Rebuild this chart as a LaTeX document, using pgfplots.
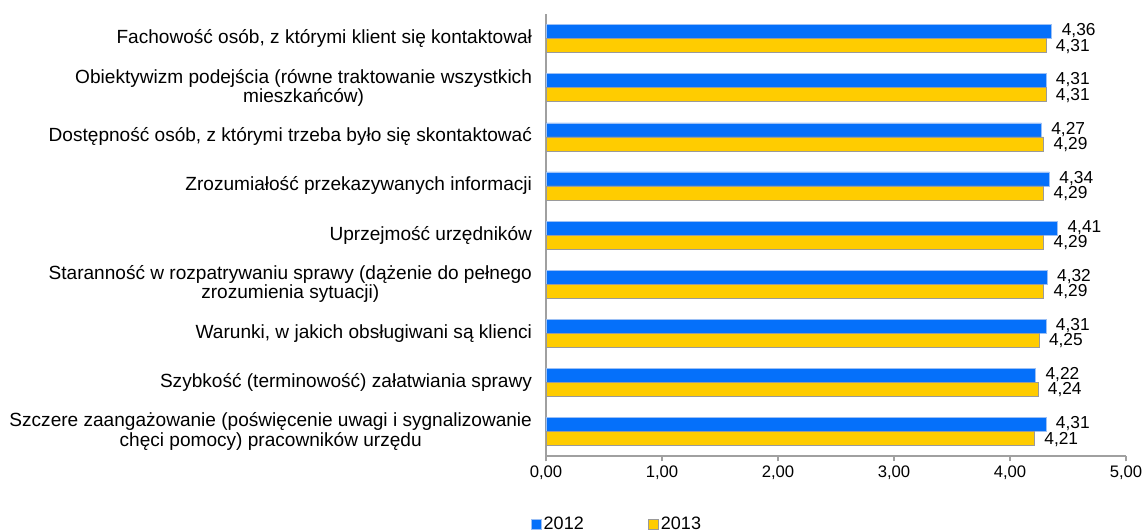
\documentclass[border=0pt]{standalone}
\usepackage{fontspec}
\setmainfont{Liberation Sans}
\usepackage{pgfplots}
\pgfplotsset{compat=1.18}
\definecolor{y2012}{HTML}{0570FA}
\definecolor{y2012e}{HTML}{9CC0F5}
\definecolor{y2013}{HTML}{FFCC00}
\definecolor{y2013e}{HTML}{9A9A9A}
\definecolor{axisgray}{HTML}{A0A0A0}

\begin{document}
\begin{tikzpicture}[font=\fontsize{12}{13}\selectfont]
\begin{axis}[
	name=main,
	at={(0,0)}, anchor=south west,
	scale only axis,
	width=435pt, height=331.5pt,
	xbar, bar width=10.5pt,
	xmin=0, xmax=5,
	ymin=-0.5, ymax=8.5,
	y dir=reverse,
	axis x line*=bottom,
	axis y line*=left,
	axis line style={axisgray, line width=0.8pt},
	xtick={0,1,2,3,4,5},
	ytick={0,...,8},
	minor ytick={-0.5,0.5,...,8.5},
	tick align=outside,
	major tick length=4pt,
	minor tick length=5pt,
	ytick style={draw=none},
	minor tick style={draw=axisgray, line width=0.8pt},
	xtick style={axisgray, line width=0.8pt},
	xticklabel style={font=\fontsize{12.5}{13}\selectfont,
		/pgf/number format/.cd, use comma, fixed, fixed zerofill, precision=2, /tikz/.cd, yshift=0pt},
	/pgf/number format/assume math mode=true,
	yticklabel style={align=center, xshift=-3pt, font=\fontsize{14.3}{12.8}\selectfont},
	yticklabels={
		{Fachowość osób, z którymi klient się kontaktował},
		{Obiektywizm podejścia (równe traktowanie wszystkich\\mieszkańców)},
		{Dostępność osób, z którymi trzeba było się skontaktować},
		{Zrozumiałość przekazywanych informacji},
		{Uprzejmość urzędników},
		{Staranność w rozpatrywaniu sprawy (dążenie do pełnego\\zrozumienia sytuacji)},
		{Warunki, w jakich obsługiwani są klienci},
		{Szybkość (terminowość) załatwiania sprawy},
		{Szczere zaangażowanie (poświęcenie uwagi i sygnalizowanie\\chęci pomocy) pracowników urzędu}
	},
	nodes near coords,
	nodes near coords style={anchor=west, xshift=4pt, inner ysep=0pt, font=\fontsize{13}{13}\selectfont,
		/pgf/number format/.cd, use comma, fixed, fixed zerofill, precision=2, assume math mode=true, /tikz/.cd},
	legend columns=2,
	legend style={at={(-0.034,-0.155)}, anchor=west, draw=none, fill=none,
		font=\fontsize{13.5}{14}\selectfont,
		/tikz/every even column/.append style={column sep=46pt}},
	legend image code/.code={\draw[#1] (0pt,-3.75pt) rectangle (7.5pt,3.75pt);},
	clip=false,
]
\addplot[fill=y2012, draw=y2012e, bar shift=5.25pt,
	every node near coord/.append style={yshift=0.5pt}] coordinates {
	(4.36,0) (4.31,1) (4.27,2) (4.34,3) (4.41,4) (4.32,5) (4.31,6) (4.22,7) (4.31,8)};
\addplot[fill=y2013, draw=y2013e, bar shift=-5.25pt,
	every node near coord/.append style={yshift=-0.5pt}] coordinates {
	(4.31,0) (4.31,1) (4.29,2) (4.29,3) (4.29,4) (4.29,5) (4.25,6) (4.24,7) (4.21,8)};
\legend{2012, 2013}
\end{axis}
\pgfresetboundingbox
\path (-409.5pt,-57pt) rectangle (450.75pt,342pt);
\end{tikzpicture}
\end{document}
